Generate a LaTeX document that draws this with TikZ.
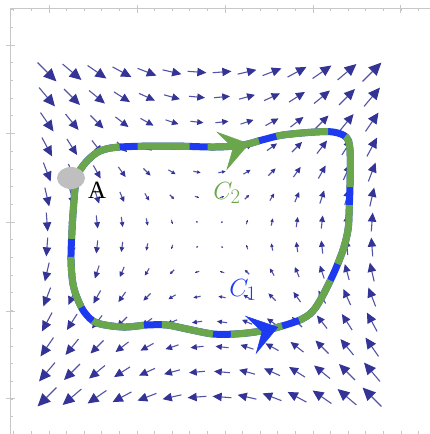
\documentclass[tikz,border=0pt]{standalone}
\usepackage{fontspec}
\setmainfont{Liberation Serif}
\usetikzlibrary{arrows.meta,decorations.markings,shapes.geometric}
\definecolor{colvec}{RGB}{52,52,150}
\definecolor{colone}{RGB}{30,58,240}
\definecolor{coltwo}{RGB}{106,166,76}
\colorlet{colframe}{black!22}
\tikzset{
  >=Latex,
  frame line/.style={colframe, line width=0.8pt},
  vec/.style={colvec!85, line width=1.1pt},
  path base/.style={colone, line width=7pt},
  path two/.style={draw=coltwo, line width=7pt, dash pattern=on 52pt off 18pt, dash phase=65pt},
  path one/.style={draw=coltwo, line width=7pt, dash pattern=on 52pt off 18pt, dash phase=61pt},
  head two/.tip={Stealth[length=29pt, width=40pt, inset=12pt, line width=0.5pt, color=coltwo]},
  head one/.tip={Stealth[length=29pt, width=40pt, inset=12pt, line width=0.5pt, color=colone]},
  point dot/.style={ellipse, fill=black!25, minimum width=28pt, minimum height=22pt, inner sep=0},
  curve label/.style={font=\Huge},
}

\begin{document}
\begin{tikzpicture}[x=1pt, y=-1pt]
  \useasboundingbox (0,0) rectangle (430,434);

  % ---- frame with ticks
  \draw[frame line] (10,434) -- (10,8) -- (430,8);
  \foreach \k in {0,...,23} {
    \draw[frame line] ({13.8+17.6*\k},8) -- ++(0,3);
    \draw[frame line] ({13.8+17.6*\k},434) -- ++(0,-3);
  }
  \foreach \k in {0,...,23}
    \draw[frame line] (10,{9.6+17.7*\k}) -- ++(3,0);
  \foreach \t in {49,137,225,313,400}
    \draw[frame line] (\t,5) -- (\t,13);
  \foreach \t in {45,133,222,311,398}
    \draw[frame line] (6,\t) -- (15,\t);

  % ---- vector field (y, x) on a 14 x 14 grid
  \foreach \i in {0,...,13} \foreach \j in {0,...,13} {
    \pgfmathsetmacro{\vx}{1.45*(6.5-\j)}
    \pgfmathsetmacro{\vy}{-1.45*(\i-6.5)}
    \pgfmathsetmacro{\len}{2*sqrt(\vx*\vx+\vy*\vy)}
    \pgfmathsetmacro{\hl}{max(0.48*\len,1.4)}
    \pgfmathsetmacro{\hw}{max(0.44*\len,1.4)}
    \pgfmathsetmacro{\sx}{47+25*\i-\vx}
    \pgfmathsetmacro{\sy}{72+25*\j-\vy}
    \draw[vec, -{Triangle[length=\hl pt, width=\hw pt, color=colvec]}] (\sx,\sy) -- ++({2*\vx},{2*\vy});
  }

  % ---- ends shared by both curves
  \coordinate (start) at (76,178);
  \coordinate (end) at (349,215);

  % ---- C2 over the top
  \draw[path base, postaction={path two},
        postaction={decorate, decoration={markings, mark=at position 187pt with {\arrow{head two}}}}]
    plot[smooth, tension=0.55] coordinates {(start) (80,170) (88,160) (100,151) (120,147) (170,146)
      (215,147) (243,145) (262,140) (283,135) (315,132) (333,132) (346,137) (350,150) (350,185) (end)};

  % ---- C1 under the bottom
  \draw[path base, postaction={path one},
        postaction={decorate, decoration={markings, mark=at position 337pt with {\arrow{head one}}}}]
    plot[smooth, tension=0.55] coordinates {(start) (74,200) (72,230) (71,260) (73,284) (78,300)
      (85,313) (97,323) (123,327) (147,325) (167,325) (187,329) (213,334) (235,334) (255,332)
      (275,328) (302,319) (316,307) (332,277) (343,250) (348,230) (end)};

  % ---- point A and labels
  \node[point dot] (A) at (71,178) {};
  \node[font=\Huge] (labA) at (97,190) {A};
  \node[curve label, coltwo] (labtwo) at (227,193) {$C_2$};
  \node[curve label, colone] (labone) at (243,290) {$C_1$};

\end{tikzpicture}
\end{document}
